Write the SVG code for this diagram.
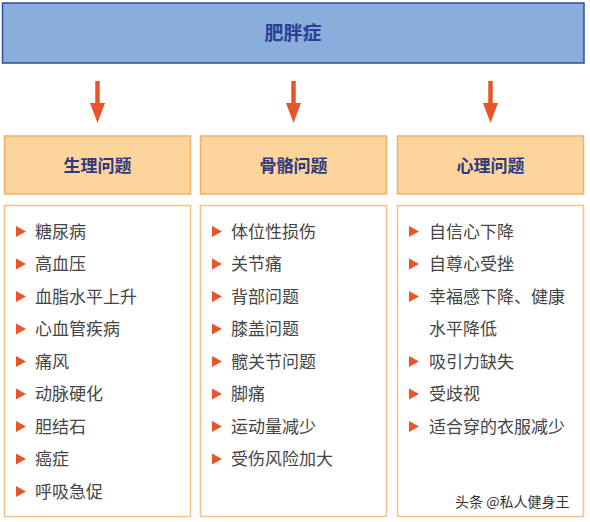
<svg xmlns="http://www.w3.org/2000/svg" width="590" height="522" viewBox="0 0 590 522">
<style>
.top{fill:#8aaedb;stroke:#2f4c9e;stroke-width:1.5}
.hdr{fill:#fdd49c;stroke:#f2b06a;stroke-width:1.5}
.lst{fill:#fff;stroke:#f5c08a;stroke-width:1.5}
.t1{font-family:"Noto Sans CJK SC","Noto Sans",sans-serif;font-weight:bold;font-size:19px;fill:#2c3f94;text-anchor:middle}
.t2{font-family:"Noto Sans CJK SC","Noto Sans",sans-serif;font-weight:bold;font-size:17px;fill:#2d3a80;text-anchor:middle}
.it{font-family:"Noto Sans CJK SC","Noto Sans",sans-serif;font-size:17px;fill:#454545}
.b{fill:#e8552a}
.arr{stroke:#e8552a;stroke-width:4.5;fill:none}
.ah{fill:#e8552a}
.wm{font-family:"Noto Sans CJK SC","Noto Sans",sans-serif;font-size:14px;fill:#333;stroke:#fff;stroke-width:2.5;paint-order:stroke}
</style>
<rect width="590" height="522" fill="#fff"/>
<g id="root">
<rect class="top" x="2.5" y="3" width="581.5" height="60"/>
<text class="t1" x="293" y="40">肥胖症</text>
</g>
<g id="connectors">
<line class="arr" x1="97.5" y1="81" x2="97.5" y2="106"/>
<polygon class="ah" points="90,103 105,103 97.5,123"/>
<line class="arr" x1="293.5" y1="81" x2="293.5" y2="106"/>
<polygon class="ah" points="286,103 301,103 293.5,123"/>
<line class="arr" x1="490.5" y1="81" x2="490.5" y2="106"/>
<polygon class="ah" points="483,103 498,103 490.5,123"/>
</g>
<g id="h1">
<rect class="hdr" x="4.5" y="136" width="186" height="58"/>
<text class="t2" x="97.5" y="172">生理问题</text>
</g>
<g id="h2">
<rect class="hdr" x="200.5" y="136" width="186" height="58"/>
<text class="t2" x="293.5" y="172">骨骼问题</text>
</g>
<g id="h3">
<rect class="hdr" x="397.5" y="136" width="186" height="58"/>
<text class="t2" x="490.5" y="172">心理问题</text>
</g>
<defs>
<polygon id="tri" class="b" points="0,-5.5 10,0 0,5.5"/>
</defs>
<g id="l1">
<rect class="lst" x="4.5" y="205.5" width="186" height="311"/>
<use href="#tri" x="16" y="231.5"/><text class="it" x="35" y="237.5">糖尿病</text>
<use href="#tri" x="16" y="264"/><text class="it" x="35" y="270">高血压</text>
<use href="#tri" x="16" y="296.5"/><text class="it" x="35" y="302.5">血脂水平上升</text>
<use href="#tri" x="16" y="329"/><text class="it" x="35" y="335">心血管疾病</text>
<use href="#tri" x="16" y="361.5"/><text class="it" x="35" y="367.5">痛风</text>
<use href="#tri" x="16" y="394"/><text class="it" x="35" y="400">动脉硬化</text>
<use href="#tri" x="16" y="426.5"/><text class="it" x="35" y="432.5">胆结石</text>
<use href="#tri" x="16" y="459"/><text class="it" x="35" y="465">癌症</text>
<use href="#tri" x="16" y="491.5"/><text class="it" x="35" y="497.5">呼吸急促</text>
</g>
<g id="l2">
<rect class="lst" x="200.5" y="205.5" width="186" height="311"/>
<use href="#tri" x="212" y="231.5"/><text class="it" x="231" y="237.5">体位性损伤</text>
<use href="#tri" x="212" y="264"/><text class="it" x="231" y="270">关节痛</text>
<use href="#tri" x="212" y="296.5"/><text class="it" x="231" y="302.5">背部问题</text>
<use href="#tri" x="212" y="329"/><text class="it" x="231" y="335">膝盖问题</text>
<use href="#tri" x="212" y="361.5"/><text class="it" x="231" y="367.5">髋关节问题</text>
<use href="#tri" x="212" y="394"/><text class="it" x="231" y="400">脚痛</text>
<use href="#tri" x="212" y="426.5"/><text class="it" x="231" y="432.5">运动量减少</text>
<use href="#tri" x="212" y="459"/><text class="it" x="231" y="465">受伤风险加大</text>
</g>
<g id="l3">
<rect class="lst" x="397.5" y="205.5" width="186" height="311"/>
<use href="#tri" x="409" y="231.5"/><text class="it" x="429" y="237.5">自信心下降</text>
<use href="#tri" x="409" y="264"/><text class="it" x="429" y="270">自尊心受挫</text>
<use href="#tri" x="409" y="296.5"/><text class="it" x="429" y="302.5">幸福感下降、健康</text>
<text class="it" x="429" y="335">水平降低</text>
<use href="#tri" x="409" y="361.5"/><text class="it" x="429" y="367.5">吸引力缺失</text>
<use href="#tri" x="409" y="394"/><text class="it" x="429" y="400">受歧视</text>
<use href="#tri" x="409" y="426.5"/><text class="it" x="429" y="432.5">适合穿的衣服减少</text>
<text class="wm" x="455" y="507">头条 @私人健身王</text>
</g>
</svg>
